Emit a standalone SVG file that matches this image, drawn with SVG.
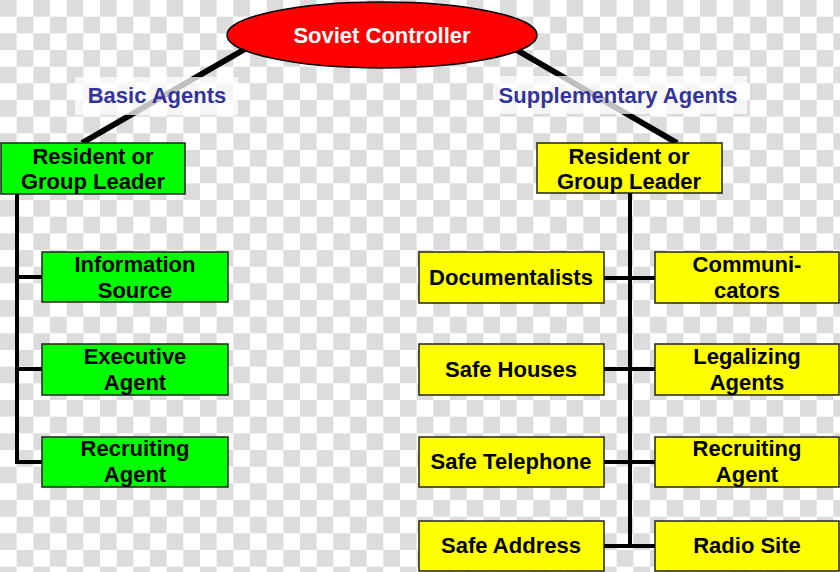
<svg xmlns="http://www.w3.org/2000/svg" width="840" height="572" viewBox="0 0 840 572">
<defs>
<pattern id="checker" x="0" y="0" width="33.333" height="33.333" patternUnits="userSpaceOnUse">
<rect width="33.333" height="33.333" fill="#ffffff"/>
<rect x="0" y="0" width="16.667" height="16.667" fill="#dcdcdc"/>
<rect x="16.667" y="16.667" width="16.667" height="16.667" fill="#dcdcdc"/>
</pattern>
<style>
.txt{font-family:"Liberation Sans",Arial,sans-serif;font-weight:bold;font-size:22px;text-anchor:middle;fill:#000}
.lbl{font-family:"Liberation Sans",Arial,sans-serif;font-weight:bold;font-size:22px;text-anchor:middle;fill:#333399}
.green{fill:#00ff00;stroke:#222;stroke-width:1.5}
.yellow{fill:#ffff00;stroke:#222;stroke-width:1.5}
.diag{stroke:#000;stroke-width:6;fill:none}
.conn{stroke:#000;stroke-width:4;fill:none}
.lblbg{fill:#ffffff;fill-opacity:0.75}
</style>
</defs>
<rect width="840" height="572" fill="url(#checker)"/>
<g id="connectors">
<line class="diag" x1="245" y1="49" x2="82" y2="143"/>
<line class="diag" x1="515" y1="49" x2="677" y2="143"/>
<polyline class="conn" points="17,194 17,462 42,462"/>
<line class="conn" x1="17" y1="277" x2="42" y2="277"/>
<line class="conn" x1="17" y1="369" x2="42" y2="369"/>
<line class="conn" x1="630" y1="193" x2="630" y2="546"/>
<line class="conn" x1="604" y1="278" x2="655" y2="278"/>
<line class="conn" x1="604" y1="369" x2="655" y2="369"/>
<line class="conn" x1="604" y1="462" x2="655" y2="462"/>
<line class="conn" x1="604" y1="546" x2="655" y2="546"/>
</g>
<g id="label-basic">
<rect class="lblbg" x="75" y="77" width="163" height="38"/>
<text class="lbl" x="157" y="103">Basic Agents</text>
</g>
<g id="label-supplementary">
<rect class="lblbg" x="493" y="76" width="254" height="38"/>
<text class="lbl" x="618" y="103">Supplementary Agents</text>
</g>
<g id="soviet-controller">
<ellipse cx="382" cy="35" rx="155" ry="33" fill="#ff0000" stroke="#000" stroke-width="1.5"/>
<text class="txt" x="382" y="43" style="fill:#ffffff">Soviet Controller</text>
</g>
<g id="resident-left">
<rect class="green" x="1" y="143" width="184" height="51"/>
<text class="txt" x="93" y="164">Resident or</text>
<text class="txt" x="93" y="189">Group Leader</text>
</g>
<g id="information-source">
<rect class="green" x="42" y="252" width="186" height="50"/>
<text class="txt" x="135" y="272">Information</text>
<text class="txt" x="135" y="298">Source</text>
</g>
<g id="executive-agent">
<rect class="green" x="42" y="344" width="186" height="51"/>
<text class="txt" x="135" y="364">Executive</text>
<text class="txt" x="135" y="390">Agent</text>
</g>
<g id="recruiting-agent-left">
<rect class="green" x="42" y="437" width="186" height="50"/>
<text class="txt" x="135" y="456">Recruiting</text>
<text class="txt" x="135" y="482">Agent</text>
</g>
<g id="resident-right">
<rect class="yellow" x="537" y="143" width="185" height="50"/>
<text class="txt" x="629" y="164">Resident or</text>
<text class="txt" x="629" y="189">Group Leader</text>
</g>
<g id="documentalists">
<rect class="yellow" x="419" y="252" width="185" height="51"/>
<text class="txt" x="511" y="285">Documentalists</text>
</g>
<g id="communicators">
<rect class="yellow" x="655" y="252" width="184" height="51"/>
<text class="txt" x="747" y="272">Communi-</text>
<text class="txt" x="747" y="298">cators</text>
</g>
<g id="safe-houses">
<rect class="yellow" x="419" y="344" width="185" height="51"/>
<text class="txt" x="511" y="377">Safe Houses</text>
</g>
<g id="legalizing-agents">
<rect class="yellow" x="655" y="344" width="184" height="51"/>
<text class="txt" x="747" y="364">Legalizing</text>
<text class="txt" x="747" y="390">Agents</text>
</g>
<g id="safe-telephone">
<rect class="yellow" x="419" y="437" width="185" height="50"/>
<text class="txt" x="511" y="469">Safe Telephone</text>
</g>
<g id="recruiting-agent-right">
<rect class="yellow" x="655" y="437" width="184" height="50"/>
<text class="txt" x="747" y="456">Recruiting</text>
<text class="txt" x="747" y="482">Agent</text>
</g>
<g id="safe-address">
<rect class="yellow" x="419" y="521" width="185" height="50"/>
<text class="txt" x="511" y="553">Safe Address</text>
</g>
<g id="radio-site">
<rect class="yellow" x="655" y="521" width="184" height="50"/>
<text class="txt" x="747" y="553">Radio Site</text>
</g>
</svg>
